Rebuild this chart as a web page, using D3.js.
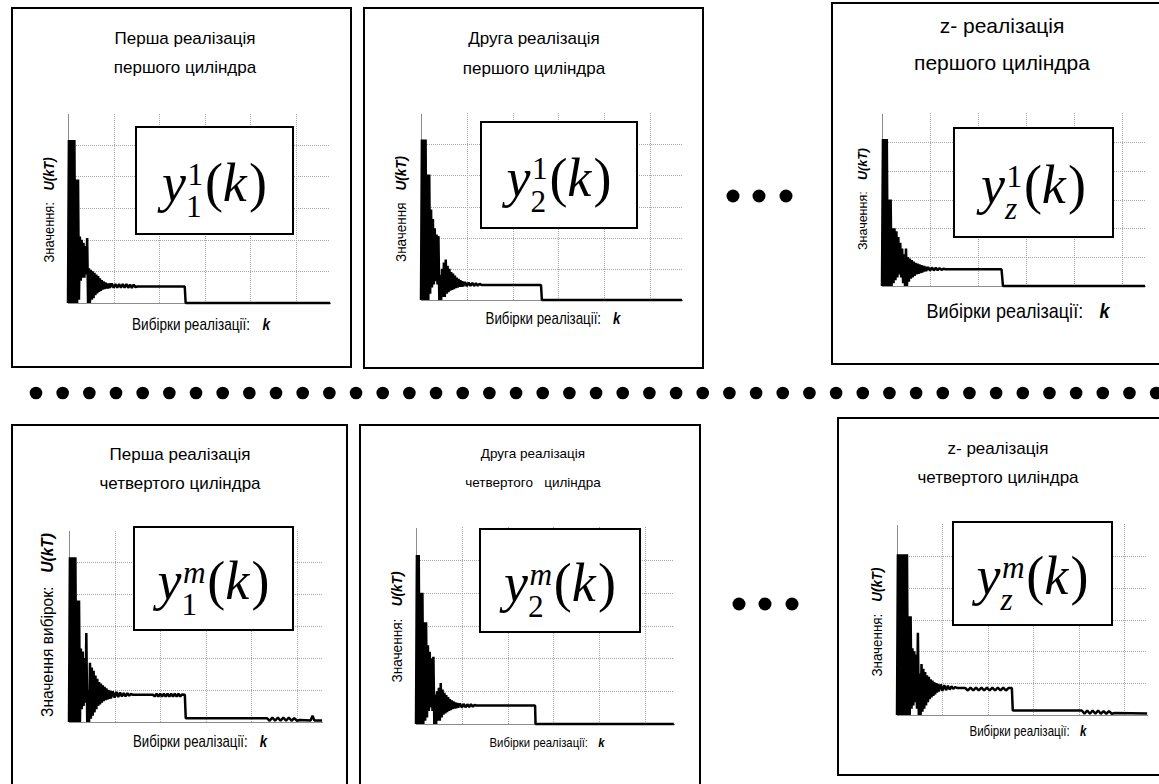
<!doctype html>
<html lang="uk">
<head>
  <meta charset="utf-8">
  <title>Реалізації циліндрів</title>
  <script src="https://cdn.jsdelivr.net/npm/d3@7"></script>
  <style>
    body { margin: 0; background: white; }
    svg { display: block; font-family: "Liberation Sans", Arial, sans-serif; }
    text { white-space: pre; }
    .grid line { stroke: #a6a6a6; stroke-dasharray: 1,1; shape-rendering: crispEdges; }
    .grid .domain { display: none; }
    .axis .domain { stroke: #8c8c8c; shape-rendering: crispEdges; }
  </style>
</head>
<body>
<svg id="svg" width="1159" height="784"></svg>
<script>
  // ---- data ----
  var titles = [
    ["Перша реалізація", "першого циліндра"],
    ["Друга реалізація", "першого циліндра"],
    ["z- реалізація", "першого циліндра"],
    ["Перша реалізація", "четвертого циліндра"],
    ["Друга реалізація", "четвертого   циліндра"],
    ["z- реалізація", "четвертого циліндра"]
  ];
  var yLabels = [
    ["Значення:", "U(kT)"],
    ["Значення", "U(kT)"],
    ["Значення:", "U(kT)"],
    ["Значення вибірок:", "U(kT)"],
    ["Значення:", "U(kT)"],
    ["Значення:", "U(kT)"]
  ];
  var xLabels = [
    ["Вибірки реалізації:", "k"],
    ["Вибірки реалізації:", "k"],
    ["Вибірки реалізації:", "k"],
    ["Вибірки реалізації:", "k"],
    ["Вибірки реалізації:", "k"],
    ["Вибірки реалізації:", "k"]
  ];
  var formulaSups = ["1", "1", "1", "m", "m", "m"];
  var formulaSubs = ["1", "2", "z", "1", "2", "z"];

  var gridK = [100, 200, 300, 400, 500];   // vertical grid, samples
  var gridV = [1, 2, 3, 4, 5];             // horizontal grid, U(kT)
  var burstStep = 2;                       // samples between burst values

  // transient part: values at k = 0, 2, 4, ...
  var burst1 = [0, 5.15, 0, 5.15, 0, 5.15, 0, 5.15, 0, 3.9, 0, 3.9, 0.1, 2.1, 0.7, 2.0, 0.8, 1.9, 0.8, 1.8,
                0.9, 2.05, 0, 1.1, 0, 1.05, 0.1, 1.0, 0.15, 0.95, 0.25, 0.9, 0.3, 0.85, 0.35, 0.78, 0.38, 0.72,
                0.42, 0.68, 0.44, 0.65, 0.46, 0.62, 0.46, 0.62];
  var burst2 = [0, 5.15, 0, 5.15, 0, 5.15, 0, 4.03, 0, 4.03, 0.2, 2.9, 0.4, 2.6, 0.5, 2.3, 0.6, 2.1, 0.5, 2.05,
                0, 0.8, 0, 1.0, 0.1, 1.2, 0.1, 1.3, 0.2, 1.1, 0.25, 1.0, 0.3, 0.9, 0.32, 0.85, 0.35, 0.78,
                0.38, 0.72, 0.4, 0.68, 0.42, 0.64, 0.42, 0.6];
  var burst3 = [0, 5.1, 0, 5.1, 0, 5.1, 0, 3.0, 0, 3.0, 0, 2.0, 0.1, 2.0, 0.2, 1.9, 0.3, 1.7, 0.4, 1.5,
                0.3, 1.3, 0.1, 1.1, 0, 1.3, 0, 1.0, 0.15, 0.95, 0.25, 0.9, 0.3, 0.85, 0.35, 0.8, 0.4, 0.78,
                0.42, 0.75, 0.45, 0.72, 0.47, 0.7, 0.5, 0.68];
  var burst4 = [0, 5.15, 0, 5.15, 0, 5.15, 0, 5.15, 0, 3.8, 0, 3.8, 0, 2.3, 0.4, 2.2, 0.5, 2.0, 0.6, 2.78,
                0, 1.0, 0, 1.85, 0.1, 1.7, 0.2, 1.6, 0.3, 1.45, 0.4, 1.35, 0.5, 1.25, 0.55, 1.2, 0.6, 1.15,
                0.65, 1.1, 0.68, 1.05, 0.7, 1.0, 0.72, 0.98];
  var burst5 = [0, 5.15, 0, 5.15, 0, 4.0, 0, 4.0, 0, 3.1, 0.1, 3.1, 0.2, 2.4, 0.4, 2.2, 0.5, 2.0, 0.4, 2.05,
                0, 0.9, 0, 1.0, 0.1, 1.1, 0.1, 1.25, 0.2, 1.05, 0.28, 0.95, 0.32, 0.88, 0.36, 0.82, 0.4, 0.76,
                0.42, 0.72, 0.45, 0.69, 0.47, 0.66, 0.48, 0.64];
  var burst6 = [0, 5.05, 0, 5.05, 0, 5.05, 0, 5.05, 0, 5.05, 0, 5.05, 0, 3.1, 0, 3.1, 0.2, 2.1, 0.3, 2.0,
                0.4, 1.9, 0.2, 2.58, 0, 1.3, 0, 1.6, 0.1, 1.45, 0.2, 1.35, 0.3, 1.25, 0.4, 1.2, 0.5, 1.12,
                0.55, 1.08, 0.6, 1.03, 0.65, 1.0, 0.7, 0.98];

  // settling, plateau, step and tail: [k, U]
  var rest1 = [[92, 0.48], [96, 0.62], [100, 0.48], [104, 0.6], [108, 0.48], [112, 0.6], [116, 0.48], [120, 0.6],
               [124, 0.48], [128, 0.6], [132, 0.48], [136, 0.58], [140, 0.48], [144, 0.58], [148, 0.5],
               [152, 0.52], [256, 0.52], [258, 0], [575, 0]];
  var rest2 = [[92, 0.44], [96, 0.58], [100, 0.44], [104, 0.56], [108, 0.45], [112, 0.55], [116, 0.45],
               [120, 0.54], [124, 0.46], [128, 0.52], [132, 0.48], [262, 0.48], [264, 0], [570, 0]];
  var rest3 = [[92, 0.52], [96, 0.66], [100, 0.53], [104, 0.64], [108, 0.54], [112, 0.63], [116, 0.55],
               [120, 0.62], [124, 0.56], [128, 0.6], [132, 0.58], [249, 0.58], [252, 0], [548, 0]];
  var rest4 = [[92, 0.74], [96, 0.96], [100, 0.76], [104, 0.94], [108, 0.78], [112, 0.92], [116, 0.8],
               [120, 0.9], [124, 0.8], [128, 0.9], [132, 0.82], [136, 0.88], [140, 0.85],
               [184, 0.85], [188, 0.8], [192, 0.88], [196, 0.8], [200, 0.88], [204, 0.8], [208, 0.88], [212, 0.8],
               [216, 0.88], [220, 0.8], [224, 0.88], [228, 0.8], [232, 0.88], [236, 0.8], [240, 0.88], [244, 0.8],
               [248, 0.86], [254, 0.85], [256, 0.12], [434, 0.12], [440, 0.04], [446, 0.14], [452, 0.04],
               [458, 0.14], [464, 0.04], [470, 0.14], [476, 0.04], [482, 0.14], [488, 0.04], [494, 0.12],
               [500, 0.04], [506, 0.06], [530, 0.05], [534, 0.2], [538, 0.05], [555, 0.05]];
  var rest5 = [[92, 0.5], [96, 0.62], [100, 0.5], [104, 0.61], [108, 0.51], [112, 0.6], [116, 0.52],
               [120, 0.6], [124, 0.53], [128, 0.58], [132, 0.56], [260, 0.56], [261, 0], [563, 0]];
  var rest6 = [[92, 0.74], [96, 0.96], [100, 0.76], [104, 0.94], [108, 0.78], [112, 0.92], [116, 0.8],
               [120, 0.9], [124, 0.82], [128, 0.88], [132, 0.85],
               [150, 0.85], [156, 0.77], [162, 0.86], [168, 0.77], [174, 0.86], [180, 0.77], [186, 0.86],
               [192, 0.77], [198, 0.86], [204, 0.77], [210, 0.86], [216, 0.77], [222, 0.86], [228, 0.77],
               [234, 0.86], [240, 0.77], [246, 0.85], [253, 0.85], [255, 0.14], [407, 0.14], [413, 0.04],
               [419, 0.14], [425, 0.04], [431, 0.14], [437, 0.04], [443, 0.14], [449, 0.04], [455, 0.12],
               [461, 0.04], [467, 0.12], [473, 0.04], [480, 0.06], [551, 0.05]];

  var bursts = [burst1, burst2, burst3, burst4, burst5, burst6];
  var rests = [rest1, rest2, rest3, rest4, rest5, rest6];

  // ---- layout (pixels) ----
  // yl / xl: centre x, centre y, font size, total length
  var panels = [
    {box: [12, 8, 339, 359],  plot: [68, 113, 330, 303],   step: 45.6, tx: 185,  ty: [38, 67],   ts: 17,
     fbox: [136, 127, 157, 107], fs: 54, yl: [49, 210, 15, 105],  xl: [201, 325, 16, 138]},
    {box: [364, 8, 339, 360], plot: [421, 113, 682, 300],  step: 45.8, tx: 534,  ty: [38, 68],   ts: 17,
     fbox: [481, 122, 156, 106], fs: 54, yl: [401, 209, 15, 106], xl: [553, 319, 16, 135]},
    {box: [832, 3, 340, 361], plot: [882, 113, 1145, 286], step: 48,   tx: 1002, ty: [25, 62],   ts: 21,
     fbox: [954, 128, 159, 109], fs: 54, yl: [862, 199, 13, 102], xl: [1018, 310, 21, 183]},
    {box: [12, 425, 335, 370], plot: [69, 530, 322, 722],  step: 45.6, tx: 180,  ty: [454, 483], ts: 17,
     fbox: [134, 527, 159, 103], fs: 54, yl: [47, 625, 16, 184],  xl: [200, 742, 16, 134]},
    {box: [360, 425, 340, 370], plot: [416, 527, 674, 724], step: 45.8, tx: 533, ty: [453, 482], ts: 13.5,
     fbox: [480, 529, 160, 103], fs: 54, yl: [397, 627, 15, 111], xl: [547, 743, 13, 115]},
    {box: [838, 418, 340, 357], plot: [897, 524, 1147, 715], step: 45.4, tx: 998, ty: [448, 477], ts: 17,
     fbox: [953, 522, 159, 103], fs: 54, yl: [877, 622, 15, 109], xl: [1028, 731, 14, 117]}
  ];

  var serif = "'Liberation Serif', 'Times New Roman', serif";
  var svg = d3.select("#svg");

  // label made of a plain part and a bold italic part, squeezed sideways to a total length
  function twoPartLabel(g, parts, size, len) {
    var inner = g.append("g");
    var a = inner.append("text").attr("font-size", size).attr("dominant-baseline", "central").text(parts[0]);
    var b = inner.append("text").attr("font-size", size).attr("dominant-baseline", "central")
      .attr("font-weight", "bold").attr("font-style", "italic").text(parts[1]);
    var wa = a.node().getComputedTextLength(), wb = b.node().getComputedTextLength();
    var gap = 0.9 * size;
    var total = wa + gap + wb;
    a.attr("x", -total / 2);
    b.attr("x", -total / 2 + wa + gap);
    inner.attr("transform", "scale(" + (len / total) + ",1)");
  }

  panels.forEach(function(p, i) {
    var g = svg.append("g").attr("class", "panel");

    g.append("rect")
      .attr("x", p.box[0]).attr("y", p.box[1])
      .attr("width", p.box[2]).attr("height", p.box[3])
      .attr("fill", "white").attr("stroke", "black").attr("stroke-width", 2);

    titles[i].forEach(function(line, j) {
      g.append("text")
        .attr("x", p.tx).attr("y", p.ty[j])
        .attr("text-anchor", "middle").attr("dominant-baseline", "central")
        .attr("font-size", p.ts)
        .text(line);
    });

    var kMax = (p.plot[2] - p.plot[0]) / p.step * 100;
    var x = d3.scaleLinear().domain([0, kMax]).range([p.plot[0], p.plot[2]]);
    var y = d3.scaleLinear().domain([0, 6]).range([p.plot[3], p.plot[1]]);

    // grid
    g.append("g").attr("class", "grid")
      .attr("transform", "translate(0," + p.plot[3] + ")")
      .call(d3.axisBottom(x).tickValues(gridK).tickSize(-(p.plot[3] - p.plot[1])).tickFormat(""));
    g.append("g").attr("class", "grid")
      .attr("transform", "translate(" + p.plot[0] + ",0)")
      .call(d3.axisLeft(y).tickValues(gridV).tickSize(-(p.plot[2] - p.plot[0])).tickFormat(""));

    // axis lines
    g.append("g").attr("class", "axis")
      .attr("transform", "translate(" + p.plot[0] + ",0)")
      .call(d3.axisLeft(y).tickValues([]).tickSizeOuter(0));
    g.append("g").attr("class", "axis")
      .attr("transform", "translate(0," + p.plot[3] + ")")
      .call(d3.axisBottom(x).tickValues([]).tickSizeOuter(0));

    // signal
    var pts = bursts[i].map(function(v, j) { return [j * burstStep, v]; }).concat(rests[i]);
    var line = d3.line().x(function(d) { return x(d[0]); }).y(function(d) { return y(d[1]); });
    g.append("path")
      .attr("d", line(pts))
      .attr("fill", "none").attr("stroke", "black")
      .attr("stroke-width", 2.5).attr("stroke-linejoin", "bevel");

    // axis titles
    twoPartLabel(g.append("g").attr("transform", "translate(" + p.yl[0] + "," + p.yl[1] + ") rotate(-90)"),
      yLabels[i], p.yl[2], p.yl[3]);
    twoPartLabel(g.append("g").attr("transform", "translate(" + p.xl[0] + "," + p.xl[1] + ")"),
      xLabels[i], p.xl[2], p.xl[3]);

    // formula box
    var fb = p.fbox;
    g.append("rect")
      .attr("x", fb[0]).attr("y", fb[1]).attr("width", fb[2]).attr("height", fb[3])
      .attr("fill", "white").attr("stroke", "black").attr("stroke-width", 2);

    var F = p.fs, S = 0.58 * F;
    var fg = g.append("g");
    function ftext(x0, y0, size, italic, s) {
      return fg.append("text").attr("x", x0).attr("y", y0)
        .style("font-family", serif).attr("font-size", size)
        .attr("font-style", italic ? "italic" : "normal").text(s);
    }
    var yT = ftext(0, 0, F, true, "y");
    var wy = yT.node().getComputedTextLength();
    var supX = wy + 0.03 * F, subX = wy;
    var sup = ftext(supX, -0.3 * F, S, !/[0-9]/.test(formulaSups[i]), formulaSups[i]);
    var sub = ftext(subX, 0.3 * F, S, !/[0-9]/.test(formulaSubs[i]), formulaSubs[i]);
    var cx = Math.max(supX + sup.node().getComputedTextLength(), subX + sub.node().getComputedTextLength()) + 0.03 * F;
    var lp = ftext(cx, 0, F, false, "(");
    cx += lp.node().getComputedTextLength();
    var kT = ftext(cx, 0, F, true, "k");
    cx += kT.node().getComputedTextLength() + 0.04 * F;
    var rp = ftext(cx, 0, F, false, ")");
    cx += rp.node().getComputedTextLength();
    fg.attr("transform", "translate(" + (fb[0] + fb[2] / 2 - cx / 2) + "," + (fb[1] + fb[3] / 2 + 0.38 * F) + ")");
  });

  // row of dots between the two rows of panels
  svg.append("g").selectAll("circle")
    .data(d3.range(43))
    .join("circle")
    .attr("cx", function(d) { return 36 + d * 26.67; })
    .attr("cy", 393).attr("r", 6.3).attr("fill", "black");

  // ellipses between panels
  var ellipsis = [[733, 196], [759, 196], [786, 196], [739, 604], [765, 604], [792, 604]];
  svg.append("g").selectAll("circle")
    .data(ellipsis)
    .join("circle")
    .attr("cx", function(d) { return d[0]; })
    .attr("cy", function(d) { return d[1]; })
    .attr("r", 6.5).attr("fill", "black");
</script>
</body>
</html>
